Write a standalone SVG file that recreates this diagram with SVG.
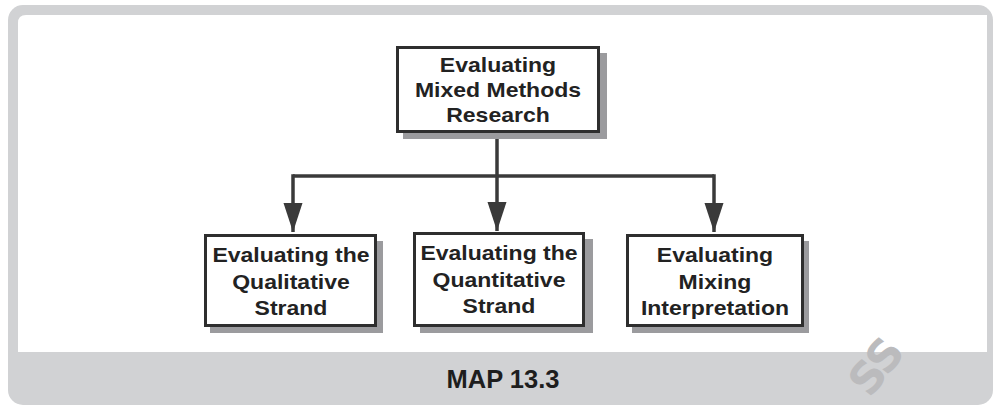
<svg xmlns="http://www.w3.org/2000/svg" width="993" height="405" viewBox="0 0 993 405">
  <defs>
    <style>
      .frame { fill: #d1d2d4; }
      .panel { fill: #ffffff; }
      .shadow { fill: #9b9b9e; }
      .box { fill: #ffffff; stroke: #2e2e2e; stroke-width: 3; }
      .label { font-family: "Liberation Sans", Arial, sans-serif; font-weight: bold; font-size: 19.5px; fill: #222222; text-anchor: middle; }
      .wire { fill: none; stroke: #3a3a3a; stroke-width: 3.5; }
      .caption { font-family: "Liberation Sans", Arial, sans-serif; font-weight: bold; font-size: 25.5px; fill: #1e1e1e; text-anchor: middle; }
      .mark { font-family: "DejaVu Sans", sans-serif; font-weight: bold; font-size: 44px; fill: #bbbbbd; }
    </style>
    <marker id="arrow" markerUnits="userSpaceOnUse" markerWidth="30" markerHeight="20" refX="29" refY="9.5" orient="auto" viewBox="0 0 30 19">
      <polygon points="0,0 29,9.5 0,19" fill="#3a3a3a"/>
    </marker>
  </defs>

  <!-- outer frame and caption band -->
  <rect class="frame" x="8" y="5" width="985" height="400" rx="15" ry="15"/>
  <path class="panel" d="M18,23 Q18,15 26,15 L987,15 L987,352 L18,352 Z"/>

  <!-- caption -->
  <text class="caption" x="503" y="388">MAP 13.3</text>
  <text class="mark" x="0" y="0" transform="translate(870,399) rotate(-52)" letter-spacing="-2">SS</text>

  <!-- connectors -->
  <g id="connectors">
    <path class="wire" d="M497,133 V176"/>
    <path class="wire" d="M293,176 H714"/>
    <path class="wire" d="M293,174.25 V232" marker-end="url(#arrow)"/>
    <path class="wire" d="M497,176 V231" marker-end="url(#arrow)"/>
    <path class="wire" d="M714,174.25 V232" marker-end="url(#arrow)"/>
  </g>

  <!-- root node -->
  <g id="node-evaluating-mmr">
    <rect class="shadow" x="403" y="53" width="204" height="86"/>
    <rect class="box" x="397.5" y="47.5" width="201" height="84"/>
    <text class="label" transform="translate(498,72) scale(1.18,1)">Evaluating</text>
    <text class="label" transform="translate(498,97) scale(1.18,1)">Mixed Methods</text>
    <text class="label" transform="translate(498,122) scale(1.18,1)">Research</text>
  </g>

  <!-- qualitative strand -->
  <g id="node-qualitative">
    <rect class="shadow" x="210" y="241" width="173" height="92"/>
    <rect class="box" x="205.5" y="235.5" width="170" height="90"/>
    <text class="label" transform="translate(291,262) scale(1.18,1)">Evaluating the</text>
    <text class="label" transform="translate(291,288.5) scale(1.18,1)">Qualitative</text>
    <text class="label" transform="translate(291,315) scale(1.18,1)">Strand</text>
  </g>

  <!-- quantitative strand -->
  <g id="node-quantitative">
    <rect class="shadow" x="420" y="239" width="173" height="94"/>
    <rect class="box" x="414.5" y="233.5" width="169" height="92"/>
    <text class="label" transform="translate(499,260) scale(1.18,1)">Evaluating the</text>
    <text class="label" transform="translate(499,287) scale(1.18,1)">Quantitative</text>
    <text class="label" transform="translate(499,313) scale(1.18,1)">Strand</text>
  </g>

  <!-- mixing interpretation -->
  <g id="node-mixing">
    <rect class="shadow" x="632" y="241" width="177" height="92"/>
    <rect class="box" x="627.5" y="235.5" width="175" height="90"/>
    <text class="label" transform="translate(715,262) scale(1.18,1)">Evaluating</text>
    <text class="label" transform="translate(715,288.5) scale(1.18,1)">Mixing</text>
    <text class="label" transform="translate(715,315) scale(1.18,1)">Interpretation</text>
  </g>
</svg>
